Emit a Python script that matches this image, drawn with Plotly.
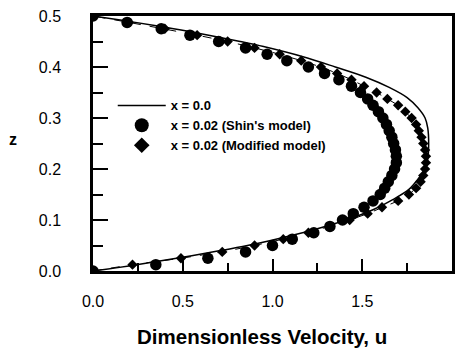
import plotly.graph_objects as go

# ---- data ----
# x = 0.0 profile (solid line)
z_line = [0.0, 0.01, 0.02, 0.03, 0.04, 0.05, 0.06, 0.08, 0.10, 0.12, 0.14, 0.16, 0.18, 0.20, 0.22, 0.25,
          0.28, 0.30, 0.32, 0.34, 0.36, 0.38, 0.40, 0.42, 0.44, 0.45, 0.46, 0.47, 0.48, 0.49, 0.50]
u_line = [0.0, 0.20, 0.38, 0.55, 0.71, 0.86, 0.99, 1.22, 1.41, 1.56, 1.67, 1.76, 1.81, 1.85, 1.865, 1.87,
          1.865, 1.85, 1.81, 1.75, 1.65, 1.52, 1.35, 1.17, 0.95, 0.82, 0.68, 0.53, 0.37, 0.19, 0.0]

# marker heights (shared by both x = 0.02 series)
z_pts = [0.0, 0.0125, 0.025, 0.0375, 0.05, 0.0625, 0.075, 0.0875, 0.1, 0.1125,
         0.125, 0.1375, 0.15, 0.1625, 0.175, 0.1875, 0.2, 0.2125, 0.225, 0.2375,
         0.25, 0.2625, 0.275, 0.2875, 0.3, 0.3125, 0.325, 0.3375, 0.35, 0.3625,
         0.375, 0.3875, 0.4, 0.4125, 0.425, 0.4375, 0.45, 0.4625, 0.475, 0.4875, 0.5]
# x = 0.02 (Shin's model) - circles
u_shin = [0.0, 0.35, 0.64, 0.85, 1.0, 1.11, 1.23, 1.32, 1.39, 1.45,
          1.51, 1.56, 1.60, 1.625, 1.645, 1.665, 1.68, 1.69, 1.69, 1.685,
          1.675, 1.665, 1.65, 1.635, 1.615, 1.59, 1.56, 1.53, 1.49, 1.44,
          1.37, 1.29, 1.20, 1.08, 0.97, 0.85, 0.70, 0.54, 0.38, 0.19, 0.0]
# x = 0.02 (Modified model) - diamonds
u_mod = [0.0, 0.22, 0.49, 0.72, 0.90, 1.06, 1.20, 1.32, 1.43, 1.53,
         1.61, 1.70, 1.76, 1.80, 1.825, 1.84, 1.85, 1.855, 1.855, 1.85,
         1.84, 1.83, 1.815, 1.80, 1.775, 1.74, 1.70, 1.64, 1.58, 1.51,
         1.44, 1.36, 1.27, 1.16, 1.04, 0.90, 0.75, 0.58, 0.40, 0.20, 0.0]

legend_names = ["x = 0.0", "x = 0.02 (Shin's model)", "x = 0.02 (Modified model)"]
x_ticks = [0.0, 0.5, 1.0, 1.5, 2.0]
y_ticks = [0.0, 0.1, 0.2, 0.3, 0.4, 0.5]

FONT = "Liberation Sans"

fig = go.Figure()
# dashed line through modified-model points
fig.add_trace(go.Scatter(x=u_mod, y=z_pts, mode="lines", showlegend=False,
                         line=dict(color="black", width=1, dash="dash")))
fig.add_trace(go.Scatter(x=u_line, y=z_line, mode="lines", name=legend_names[0],
                         line=dict(color="black", width=1.5, shape="spline")))
fig.add_trace(go.Scatter(x=u_shin, y=z_pts, mode="markers", showlegend=False,
                         marker=dict(symbol="circle", size=11.5, color="black")))
fig.add_trace(go.Scatter(x=u_mod, y=z_pts, mode="markers", showlegend=False,
                         marker=dict(symbol="diamond", size=8, color="black")))
# legend entries
fig.add_trace(go.Scatter(x=[None], y=[None], mode="markers", name=legend_names[1],
                         marker=dict(symbol="circle", size=14, color="black")))
fig.add_trace(go.Scatter(x=[None], y=[None], mode="markers", name=legend_names[2],
                         marker=dict(symbol="diamond", size=12, color="black")))

fig.update_layout(
    width=462, height=351,
    margin=dict(l=93, r=7, t=16, b=80),
    paper_bgcolor="white", plot_bgcolor="white",
    font=dict(family=FONT, color="black"),
    legend=dict(x=0.055, y=0.708, xanchor="left", yanchor="top",
                bgcolor="rgba(0,0,0,0)", itemwidth=48, tracegroupgap=0,
                font=dict(family=FONT, size=13, color="black", weight="bold")),
    xaxis=dict(range=[0, 2.0], tickvals=x_ticks, ticktext=[f"{v:.1f}" for v in x_ticks],
               ticks="inside", ticklen=12, tickwidth=2, tickcolor="black",
               minor=dict(dtick=0.25, ticks="inside", ticklen=8, tickwidth=2, tickcolor="black"),
               showline=True, linewidth=2.5, linecolor="black", mirror=True,
               showgrid=False, zeroline=False, ticklabelstandoff=14,
               tickfont=dict(family=FONT, size=16, color="black")),
    yaxis=dict(range=[0, 0.5], tickvals=y_ticks, ticktext=[f"{v:.1f}" for v in y_ticks],
               ticks="inside", ticklen=15, tickwidth=2, tickcolor="black",
               minor=dict(dtick=0.05, ticks="inside", ticklen=10, tickwidth=2, tickcolor="black"),
               showline=True, linewidth=2.5, linecolor="black", mirror=True,
               showgrid=False, zeroline=False, ticklabelstandoff=26,
               tickfont=dict(family=FONT, size=16, color="black")),
    annotations=[
        dict(text="Dimensionless Velocity, u", xref="paper", yref="paper",
             x=(263 - 93) / 362, y=-(336 - 271) / 255, xanchor="center", yanchor="middle",
             showarrow=False, font=dict(family=FONT, size=20.5, color="black", weight="bold")),
        dict(text="z", xref="paper", yref="paper",
             x=-(93 - 12) / 362, y=(271 - 139) / 255, xanchor="center", yanchor="middle",
             showarrow=False, font=dict(family=FONT, size=16, color="black", weight="bold")),
    ],
)

fig.write_html("out.html")
